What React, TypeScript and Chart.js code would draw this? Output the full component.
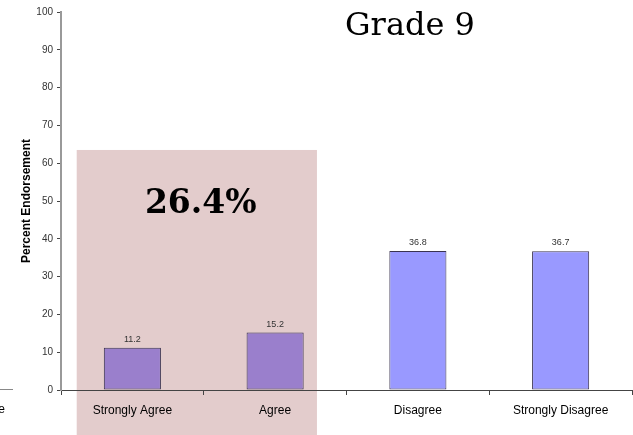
import React, { useEffect, useRef } from "react";
import { Chart, registerables } from "chart.js";

Chart.register(...registerables);

const categories = ["Strongly Agree", "Agree", "Disagree", "Strongly Disagree"];
const values = [11.2, 15.2, 36.8, 36.7];
const barColors = ["#9A7FCC", "#9A7FCC", "#9999FF", "#9999FF"];
const yTicks = [0, 10, 20, 30, 40, 50, 60, 70, 80, 90, 100];
const chartTitle = "Grade 9";
const yTitle = "Percent Endorsement";
const agreeTotal = "26.4%";

export default function App() {
  const ref = useRef<HTMLCanvasElement | null>(null);
  useEffect(() => {
    document.body.style.margin = "0";
    const ctx = ref.current!.getContext("2d")!;
    const overlay = {
      id: "overlay",
      beforeDraw(chart: any) {
        const c = chart.ctx;
        const xs = chart.scales.x;
        const ys = chart.scales.y;
        const cw = (xs.right - xs.left) / categories.length;
        const left = xs.getPixelForValue(0) - cw * 0.39;
        const right = xs.getPixelForValue(1) + cw * 0.293;
        const top = ys.getPixelForValue(63.5);
        c.save();
        c.fillStyle = "#E3CCCC";
        c.fillRect(left, top, right - left, chart.height - top);
        c.restore();
      },
      afterDatasetsDraw(chart: any) {
        const c = chart.ctx;
        const xs = chart.scales.x;
        const ys = chart.scales.y;
        c.save();
        c.font = "9px Arial, 'Liberation Sans', sans-serif";
        c.fillStyle = "#333";
        c.textAlign = "center";
        c.textBaseline = "bottom";
        values.forEach((v, i) => {
          c.fillText(v.toFixed(1), xs.getPixelForValue(i), ys.getPixelForValue(v) - 4);
        });
        // big percentage
        c.font = "bold 33px 'DejaVu Serif', serif";
        c.fillStyle = "#000";
        c.textBaseline = "middle";
        c.fillText(agreeTotal, (xs.getPixelForValue(0) + xs.getPixelForValue(1)) / 2 - 3, ys.getPixelForValue(49.2));
        // title
        c.font = "32px 'DejaVu Serif', serif";
        c.fillText(chartTitle, 410, 27);
        // y title
        c.save();
        c.translate(27, (ys.top + ys.bottom) / 2);
        c.rotate(-Math.PI / 2);
        c.font = "bold 12px Arial, 'Liberation Sans', sans-serif";
        c.fillText(yTitle, 0, 0);
        c.restore();
        // stray fragment at left edge
        c.strokeStyle = "#888";
        c.lineWidth = 1;
        c.beginPath();
        c.moveTo(0, ys.bottom - 0.5);
        c.lineTo(13, ys.bottom - 0.5);
        c.stroke();
        c.font = "12px Arial, 'Liberation Sans', sans-serif";
        c.textAlign = "right";
        c.fillText("e", 5, 410);
        c.restore();
      },
    };
    const chart = new Chart(ctx, {
      type: "bar",
      data: {
        labels: categories,
        datasets: [
          {
            data: values,
            backgroundColor: barColors,
            borderColor: "#3a3350",
            borderWidth: 1,
            borderSkipped: false,
            barPercentage: 0.4,
            categoryPercentage: 1,
          },
        ],
      },
      options: {
        animation: false,
        responsive: false,
        devicePixelRatio: 1,
        layout: { padding: { top: 12, right: 1, left: 0, bottom: 0 } },
        plugins: { legend: { display: false }, tooltip: { enabled: false } },
        scales: {
          x: {
            afterFit(s: any) {
              s.height = 45;
            },
            grid: { drawOnChartArea: false, drawTicks: true, tickLength: 5, color: "#444", offset: true },
            border: { color: "#444", width: 1 },
            ticks: {
              color: "#000",
              font: { family: "Arial, 'Liberation Sans', sans-serif", size: 12 },
              padding: 8,
            },
          },
          y: {
            min: 0,
            max: 100,
            afterFit(s: any) {
              s.width = 61;
            },
            afterBuildTicks(s: any) {
              s.ticks = yTicks.map((v) => ({ value: v }));
            },
            grid: { drawOnChartArea: false, drawTicks: true, tickLength: 4, color: "#444" },
            border: { color: "#999", width: 2 },
            ticks: {
              color: "#333",
              font: { family: "Arial, 'Liberation Sans', sans-serif", size: 10 },
              padding: 4,
            },
          },
        },
      },
      plugins: [overlay],
    });
    return () => chart.destroy();
  }, []);
  return (
    <div style={{ position: "absolute", left: 0, top: 0, width: 633, height: 435, background: "#fff" }}>
      <canvas ref={ref} width={633} height={435} />
    </div>
  );
}
